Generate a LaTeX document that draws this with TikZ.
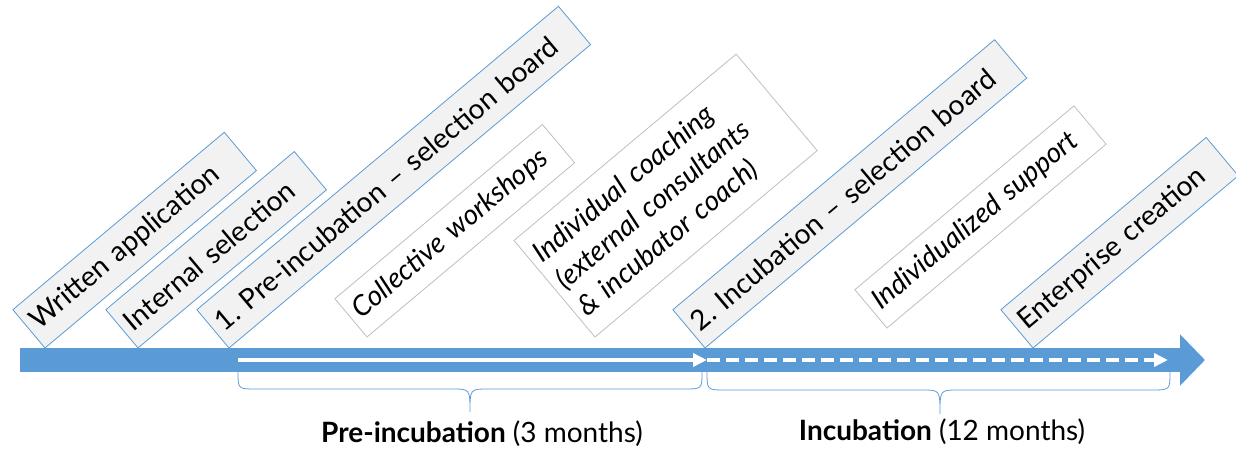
\documentclass[tikz,border=0pt]{standalone}
\usepackage{fontspec}
\setmainfont{Lato}
\usetikzlibrary{arrows.meta}
\definecolor{stageblue}{HTML}{5B9BD5}
\definecolor{stagefill}{HTML}{F2F2F2}
\definecolor{taskgrey}{HTML}{BFBFBF}
\tikzset{
  stage/.style={shape=rectangle, draw=stageblue, fill=stagefill, line width=0.8pt, rotate=40, anchor=south west, minimum height=50pt, inner xsep=7pt, inner ysep=0pt, outer sep=0pt, align=left, font=\fontsize{28}{34}\selectfont},
  task/.style={stage, draw=taskgrey, fill=white, font=\fontsize{28}{35}\selectfont\itshape},
  brace/.style={draw=stageblue, line width=0.8pt},
}
\begin{document}
\begin{tikzpicture}[x=1pt, y=-1pt]
\useasboundingbox (0,0) rectangle (1236,449);
% timeline
\coordinate (T0) at (20,360);
\coordinate (T1) at (1205,360);
\coordinate (P0) at (238,360);
\coordinate (P1) at (707,360);
\coordinate (I1) at (1168,360);
\draw [-{Triangle[length=25pt,width=50pt]}, line width=24pt, stageblue] (T0) -- (T1);
\draw [-{Triangle[length=14pt,width=13pt]}, line width=4.5pt, white] (P0) -- (P1);
\draw [-{Triangle[length=14pt,width=13pt]}, line width=4.5pt, white, dash pattern=on 13pt off 6pt] (P1) -- (I1);
% stages
\node[stage, text width=262pt] (W) at (45,348) {Written application};
\node[stage, text width=232pt] (S) at (138,348) {Internal selection};
\node[stage, text width=458pt] (PB) at (229,348) {1.\ Pre-incubation -- selection board};
\node[task, text width=257pt] (CW) at (367,337) {Collective workshops};
\node[task, text width=276pt, minimum height=126pt] (IC) at (595,337) {Individual coaching\\(external consultants\\\& incubator coach)};
\node[stage, text width=406pt] (IB) at (705,348) {2.\ Incubation -- selection board};
\node[task, text width=272pt] (IS) at (887,328) {Individualized support};
\node[stage, text width=254pt] (EC) at (1033,348) {Enterprise creation};
% braces
\coordinate (A0) at (238,372);
\coordinate (A1) at (702,372);
\coordinate (B0) at (707,372);
\coordinate (B1) at (1170,372);
\draw[brace] (A0) .. controls (238,389) .. (256,389) -- (452,389) .. controls (470,389) .. (470,412) .. controls (470,389) .. (488,389) -- (684,389) .. controls (702,389) .. (A1);
\draw[brace] (B0) .. controls (707,390) .. (725,390) -- (922,390) .. controls (940,390) .. (940,414) .. controls (940,390) .. (958,390) -- (1152,390) .. controls (1170,390) .. (B1);
\node[anchor=base, font=\fontsize{28}{32}\selectfont] (PL) at (482,442) {\textbf{Pre-incubation} (3 months)};
\node[anchor=base, font=\fontsize{28}{32}\selectfont] (IL) at (942,440) {\textbf{Incubation} (12 months)};
\end{tikzpicture}
\end{document}
